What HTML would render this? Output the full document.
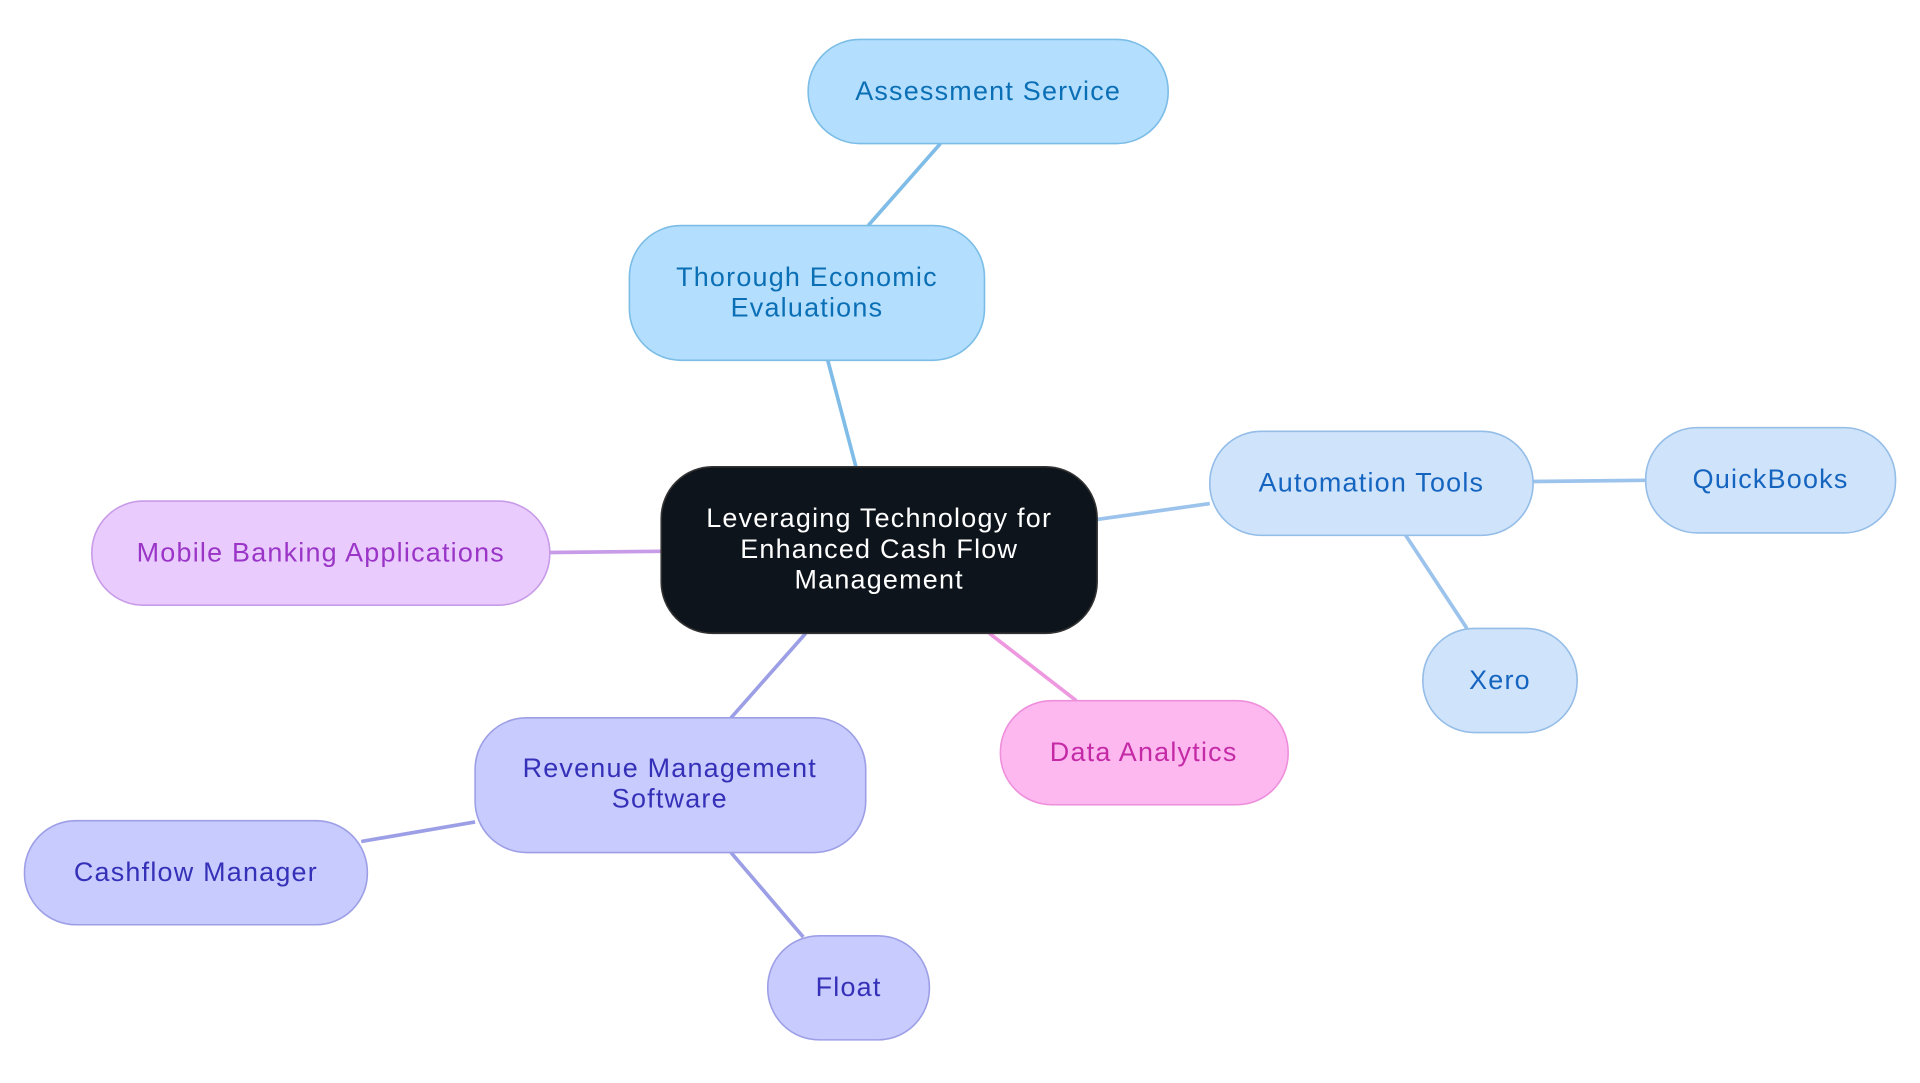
<!DOCTYPE html>
<html><head><meta charset="utf-8"><style>
html,body{margin:0;padding:0;background:#fff;}
svg{display:block;}
text{font-family:"Liberation Sans",sans-serif;font-size:22px;letter-spacing:1px;text-anchor:middle;dominant-baseline:central;}
</style></head><body>
<svg width="1920" height="1083" viewBox="0 0 1568 884" xmlns="http://www.w3.org/2000/svg">
<g stroke-width="3" fill="none">
<line x1="699" y1="381" x2="676" y2="294" stroke="#7fbde8"/>
<line x1="709" y1="184" x2="768" y2="117" stroke="#7fbde8"/>
<line x1="896" y1="424" x2="988" y2="411" stroke="#9cc3ec"/>
<line x1="1252" y1="393" x2="1344" y2="392" stroke="#9cc3ec"/>
<line x1="1148" y1="437" x2="1198" y2="513" stroke="#9cc3ec"/>
<line x1="540" y1="450" x2="449" y2="451" stroke="#c89be8"/>
<line x1="808" y1="517" x2="879" y2="572" stroke="#ee98e0"/>
<line x1="658" y1="517" x2="597" y2="586" stroke="#9d9fe6"/>
<line x1="388" y1="671" x2="295" y2="687" stroke="#9d9fe6"/>
<line x1="597" y1="696" x2="656" y2="765" stroke="#9d9fe6"/>
</g>
<g stroke-width="1.3">
<rect x="660" y="32" width="294" height="85" rx="42" fill="#b3defd" stroke="#7bbde6"/>
<rect x="514" y="184" width="290" height="110" rx="42" fill="#b3defd" stroke="#7bbde6"/>
<rect x="540" y="381" width="356" height="136" rx="42" fill="#0d141b" stroke="#333"/>
<rect x="988" y="352" width="264" height="85" rx="42" fill="#cfe3fa" stroke="#94bde8"/>
<rect x="1344" y="349" width="204" height="86" rx="42" fill="#cfe3fa" stroke="#94bde8"/>
<rect x="1162" y="513" width="126" height="85" rx="42" fill="#cfe3fa" stroke="#94bde8"/>
<rect x="75" y="409" width="374" height="85" rx="42" fill="#e9ccfd" stroke="#c89be8"/>
<rect x="817" y="572" width="235" height="85" rx="42" fill="#fdb8f0" stroke="#ee8fdc"/>
<rect x="388" y="586" width="319" height="110" rx="42" fill="#c8cbfd" stroke="#9d9fe6"/>
<rect x="20" y="670" width="280" height="85" rx="42" fill="#c8cbfd" stroke="#9d9fe6"/>
<rect x="627" y="764" width="132" height="85" rx="42" fill="#c8cbfd" stroke="#9d9fe6"/>
</g>
<text x="807" y="74" fill="#0b6fb5">Assessment Service</text>
<text x="659" y="226" fill="#0b6fb5">Thorough Economic</text>
<text x="659" y="251" fill="#0b6fb5">Evaluations</text>
<text x="718" y="423" fill="#fff">Leveraging Technology for</text>
<text x="718" y="448" fill="#fff">Enhanced Cash Flow</text>
<text x="718" y="473" fill="#fff">Management</text>
<text x="1120" y="394" fill="#1565c0">Automation Tools</text>
<text x="1446" y="391" fill="#1565c0">QuickBooks</text>
<text x="1225" y="555" fill="#1565c0">Xero</text>
<text x="262" y="451" fill="#9a35c7">Mobile Banking Applications</text>
<text x="934" y="614" fill="#c42aa6">Data Analytics</text>
<text x="547" y="627" fill="#3530b8">Revenue Management</text>
<text x="547" y="652" fill="#3530b8">Software</text>
<text x="160" y="712" fill="#3530b8">Cashflow Manager</text>
<text x="693" y="806" fill="#3530b8">Float</text>
</svg>
</body></html>
